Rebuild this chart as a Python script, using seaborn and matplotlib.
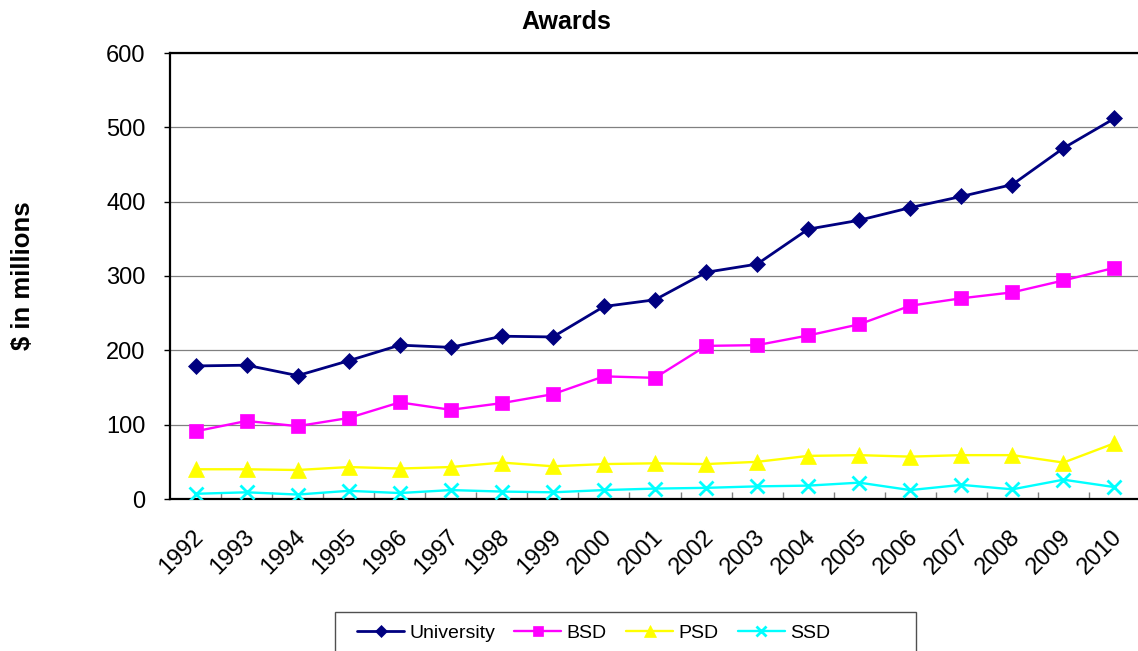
import matplotlib
matplotlib.use("Agg")
import matplotlib.pyplot as plt
import matplotlib.patches as mpatches
import matplotlib.transforms as mtrans
import numpy as np
import pandas as pd
import seaborn as sns

years = [str(y) for y in range(1992, 2011)]
university = [179, 180, 166, 186, 207, 204, 219, 218, 259, 268, 305, 316, 363, 375, 392, 407, 423, 472, 512]
bsd = [91, 105, 98, 109, 130, 120, 129, 141, 165, 163, 206, 207, 220, 235, 260, 270, 278, 294, 311]
psd = [40, 40, 39, 43, 41, 43, 49, 44, 47, 48, 47, 50, 58, 59, 57, 59, 59, 49, 75]
ssd = [7, 9, 6, 11, 8, 12, 10, 9, 12, 14, 15, 17, 18, 22, 12, 19, 13, 26, 16]
yticks = [0, 100, 200, 300, 400, 500, 600]

sns.set_style("white")
plt.rcParams['font.family'] = ['Liberation Sans', 'DejaVu Sans']
plt.rcParams['text.color'] = 'black'
plt.rcParams['xtick.color'] = 'black'
plt.rcParams['ytick.color'] = 'black'
plt.rcParams['axes.labelcolor'] = 'black'

W, H = 1138, 651
fig = plt.figure(figsize=(W / 100, H / 100), dpi=100)
ax = fig.add_axes([170 / W, 1 - 499 / H, (1140 - 170) / W, (499 - 53) / H])

idx = np.arange(len(years))
series = [
    ("University", university, "#000080", "D", 8.2, 2.0),
    ("BSD", bsd, "#FF00FF", "s", 10.5, 1.7),
    ("PSD", psd, "#FFFF00", "^", 11, 1.7),
    ("SSD", ssd, "#00FFFF", "x", 10, 1.7),
]
for name, vals, col, mk, ms, lw in series:
    df = pd.DataFrame({"x": idx, "y": vals})
    sns.lineplot(data=df, x="x", y="y", ax=ax, color=col, marker=mk, markersize=ms,
                 markeredgecolor=col, markerfacecolor=col,
                 markeredgewidth=(2 if mk == "x" else 0.5), linewidth=lw, label=name,
                 legend=False, zorder=3)

ax.set_xlim(-0.5, len(years) - 0.5)
ax.set_ylim(0, 600)
ax.set_yticks(yticks)
ax.set_yticklabels([str(v) for v in yticks], fontsize=17)
ax.yaxis.grid(True, color="#808080", linewidth=0.9)
ax.set_axisbelow(True)

for s in ["left", "bottom", "top"]:
    ax.spines[s].set_color("black")
    ax.spines[s].set_linewidth(1.6)
ax.spines["right"].set_visible(False)

ax.tick_params(axis="y", direction="out", length=4, width=1, color="black", pad=13.5, left=True)
ax.set_xticks(idx)
ax.set_xticklabels(years, fontsize=17, rotation=45, ha="right", va="top", rotation_mode="anchor")
ax.tick_params(axis="x", which="major", length=0, pad=19)
ax.set_xticks(np.arange(0.5, len(years) - 1, 1.0), minor=True)
ax.tick_params(axis="x", which="minor", direction="in", length=5, width=1, color="#808080", bottom=True)
offset = mtrans.ScaledTranslation(-3 / 100, 0, fig.dpi_scale_trans)
for lab in ax.get_xticklabels():
    lab.set_transform(lab.get_transform() + offset)

ax.set_xlabel("")
ax.set_ylabel("$ in millions", fontsize=18.5, fontweight="bold")
ax.yaxis.set_label_coords(-0.139, 0.5)

fig.text(0.498, 1 - 22 / H, "Awards", fontsize=18, fontweight="bold", ha="center", va="center")

handles, labels = ax.get_legend_handles_labels()
leg = fig.legend(handles, labels, loc="center left", bbox_to_anchor=(357 / W, 1 - 633 / H),
                 ncol=4, frameon=False, fontsize=14, handlelength=2.42, handletextpad=0.26,
                 columnspacing=1.0, borderpad=0, borderaxespad=0, markerscale=0.75)
rect = mpatches.Rectangle((335 / W, -0.02), (916 - 335) / W, 0.02 + (651 - 612) / H,
                          transform=fig.transFigure, fill=False, edgecolor="#505050", linewidth=1)
fig.patches.append(rect)

fig.savefig("out.png", dpi=100)
